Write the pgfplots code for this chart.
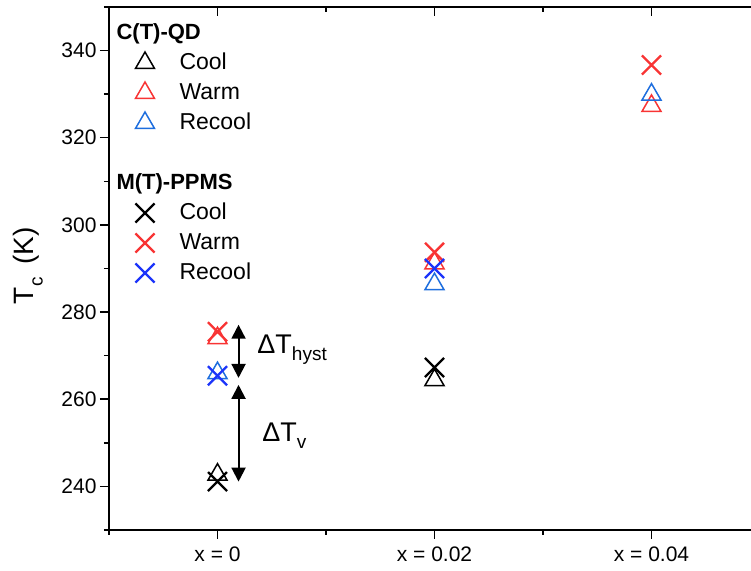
\documentclass[border=0pt]{standalone}
\usepackage{fontspec}
\setmainfont{Liberation Sans}
\usepackage{pgfplots}
\pgfplotsset{compat=1.18}
\usetikzlibrary{arrows.meta}
\definecolor{myred}{RGB}{248,52,52}
\definecolor{tblue}{RGB}{30,110,222}
\definecolor{xblue}{RGB}{28,52,250}
\begin{document}
\begin{tikzpicture}
\pgfplotsset{
 common/.style={scale only axis, width=651bp, height=523bp,
  xmin=-0.5, xmax=2.5, ymin=230, ymax=350,
  xtick={0,1,2}, minor xtick={-0.5,0.5,1.5,2.5},
  ytick={240,260,...,340}, minor ytick={230,250,...,350},
  major tick length=9bp, minor tick length=5bp,
  axis line style={-, line width=1.5bp},
  every tick/.style={black, line width=1.5bp},
  /pgf/number format/assume math mode=true,
  ticklabel style={font=\fontsize{21bp}{25bp}\selectfont},
  clip=false},
 tri/.style={only marks, mark=triangle, mark size=11bp, line width=1.5bp},
 crs/.style={only marks, mark=x, mark size=13.5bp, line width=2.3bp},
}
\begin{axis}[common, axis x line*=top, axis y line*=right, tick align=inside,
  xticklabels={}, yticklabels={}]
\end{axis}
\begin{axis}[common, axis x line*=bottom, axis y line*=left, tick align=outside,
  xticklabels={x = 0, x = 0.02, x = 0.04},
  xticklabel style={yshift=-4bp},
  ylabel={T\kern1bp{\fontsize{19bp}{19bp}\selectfont\raisebox{-9bp}{c}}\hspace{5bp} (K)},
  ylabel style={at={(axis description cs:-0.1244,0.505)}, anchor=center, font=\fontsize{28bp}{30bp}\selectfont},
  legend cell align=left,
  legend image code/.code={\draw[mark repeat=2,mark phase=2,#1] plot coordinates {(0bp,0bp)(10bp,0bp)(20bp,0bp)};},
  legend style={at={(axis description cs:0,1)}, anchor=north west, xshift=26bp, yshift=-15bp,
    draw=none, fill=none, inner sep=0pt, outer sep=0pt, row sep=8bp, column sep=25bp,
    nodes={inner sep=0pt, text height=18bp, text depth=4bp, font=\fontsize{23bp}{26bp}\selectfont}},
]
% legend
\addlegendimage{empty legend}
\addlegendentry{\hspace{-63bp}{\fontsize{22bp}{26bp}\selectfont\bfseries C(T)-QD}}
\addlegendimage{tri, black}\addlegendentry{Cool}
\addlegendimage{tri, myred}\addlegendentry{Warm}
\addlegendimage{tri, tblue}\addlegendentry{Recool}
\addlegendimage{empty legend}\addlegendentry{~}
\addlegendimage{empty legend}
\addlegendentry{\hspace{-63bp}{\fontsize{22bp}{26bp}\selectfont\bfseries M(T)-PPMS}}
\addlegendimage{crs, black}\addlegendentry{Cool}
\addlegendimage{crs, myred}\addlegendentry{Warm}
\addlegendimage{crs, xblue}\addlegendentry{Recool}
% data: C(T)-QD triangles
\addplot[tri, black, forget plot] coordinates {(0,242.7) (1,264.4)};
\addplot[tri, myred, forget plot] coordinates {(0,274.0) (1,291.2) (2,327.3)};
\addplot[tri, tblue, forget plot] coordinates {(0,266.0) (1,286.4) (2,329.9)};
% data: M(T)-PPMS crosses
\addplot[crs, black, forget plot] coordinates {(0,241.1) (1,267.3)};
\addplot[crs, myred, forget plot] coordinates {(0,275.5) (1,293.7) (2,336.7)};
\addplot[crs, xblue, forget plot] coordinates {(0,265.4) (1,290.0)};
% arrows
\draw[line width=2bp, {Triangle[width=14bp,length=14bp]}-{Triangle[width=14bp,length=14bp]}]
  (axis cs:0.097,277.1) -- (axis cs:0.097,264.9);
\draw[line width=2bp, {Triangle[width=14bp,length=14bp]}-{Triangle[width=14bp,length=14bp]}]
  (axis cs:0.097,263.3) -- (axis cs:0.097,241.1);
\node[anchor=base west, inner sep=0pt, font=\fontsize{27bp}{30bp}\selectfont]
  at (axis cs:0.183,270.6) {ΔT\raisebox{-7bp}{\fontsize{19bp}{20bp}\selectfont hyst}};
\node[anchor=base west, inner sep=0pt, font=\fontsize{27bp}{30bp}\selectfont]
  at (axis cs:0.206,250.3) {ΔT\raisebox{-7bp}{\fontsize{19bp}{20bp}\selectfont v}};
\end{axis}
\pgfresetboundingbox
\useasboundingbox (-109bp,-41bp) rectangle (642bp,530bp);
\end{tikzpicture}
\end{document}
